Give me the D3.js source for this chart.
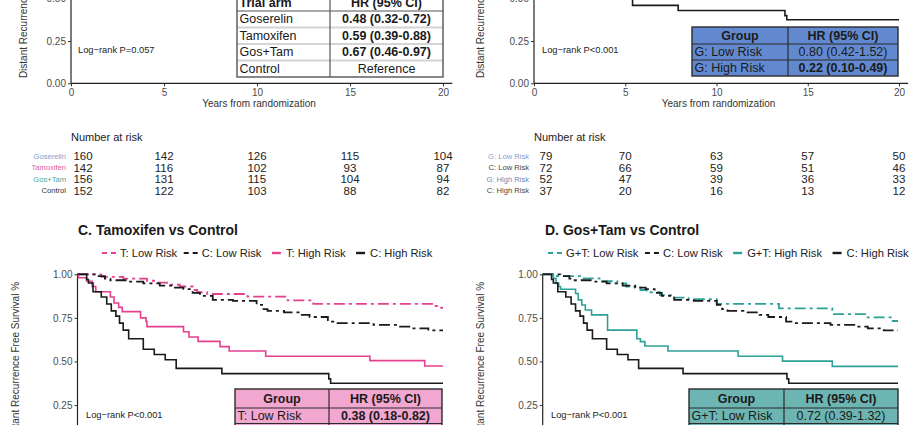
<!DOCTYPE html>
<html>
<head>
<meta charset="utf-8">
<script src="https://cdn.jsdelivr.net/npm/d3@7"></script>
<style>
  body { margin: 0; background: #fff; }
  svg { display: block; font-family: "Liberation Sans", Arial, Helvetica, sans-serif; }
</style>
</head>
<body>
<svg id="chart" width="920" height="425"></svg>
<script>
// ---- data ----
var years = [0, 5, 10, 15, 20];
var yTicks = [0, 0.25, 0.5, 0.75, 1];

var armsA = ["Goserelin", "Tamoxifen", "Gos+Tam", "Control"];
var hrA = ["0.48 (0.32-0.72)", "0.59 (0.39-0.88)", "0.67 (0.46-0.97)", "Reference"];
var hrABold = [true, true, true, false];
var riskA = [
  [160, 142, 126, 115, 104],
  [142, 116, 102, 93, 87],
  [156, 131, 115, 104, 94],
  [152, 122, 103, 88, 82]
];

var groupsB = ["G: Low Risk", "G: High Risk"];
var hrB = ["0.80 (0.42-1.52)", "0.22 (0.10-0.49)"];
var hrBBold = [false, true];
var riskLabelsB = ["G: Low Risk", "C: Low Risk", "G: High Risk", "C: High Risk"];
var riskB = [
  [79, 70, 63, 57, 50],
  [72, 66, 59, 51, 46],
  [52, 47, 39, 36, 33],
  [37, 20, 16, 13, 12]
];

var legendC = ["T: Low Risk", "C: Low Risk", "T: High Risk", "C: High Risk"];
var groupsC = ["T: Low Risk"];
var hrC = ["0.38 (0.18-0.82)"];
var hrCBold = [true];

var legendD = ["G+T: Low Risk", "C: Low Risk", "G+T: High Risk", "C: High Risk"];
var groupsD = ["G+T: Low Risk"];
var hrD = ["0.72 (0.39-1.32)"];
var hrDBold = [false];

// survival steps [years, survival]
var ctrlLow = [[0,1],[1.0,0.99],[1.5,0.975],[1.8,0.966],[2.7,0.958],[3.6,0.948],[4.5,0.935],[5.2,0.923],
  [5.8,0.915],[6.3,0.893],[6.7,0.876],[7.4,0.853],[8.5,0.848],[9.8,0.825],[10.1,0.80],[10.4,0.79],
  [11.3,0.782],[12.2,0.767],[12.7,0.755],[13.7,0.728],[14.0,0.72],[16.2,0.71],[17.6,0.70],[18.3,0.69],[19.2,0.678]];
var ctrlHigh = [[0,1],[0.5,0.97],[0.6,0.95],[0.85,0.90],[1.3,0.87],[1.6,0.83],[1.85,0.79],[2.1,0.76],
  [2.3,0.72],[2.5,0.68],[2.8,0.63],[3.6,0.57],[4.2,0.54],[4.8,0.51],[5.4,0.46],[7.9,0.43],[13.75,0.40],[13.85,0.375]];
var tamLow = [[0,1],[1.3,0.985],[2.5,0.975],[3.8,0.963],[4.35,0.952],[4.9,0.94],[5.6,0.93],[6.3,0.91],
  [6.55,0.897],[7.1,0.887],[9.3,0.872],[11.5,0.85],[12.9,0.83],[19.4,0.818],[19.9,0.808]];
var tamHigh = [[0,1],[0.05,0.98],[0.5,0.96],[0.8,0.93],[1.0,0.90],[1.8,0.87],[2.0,0.835],[2.25,0.81],
  [2.45,0.786],[3.45,0.75],[3.75,0.73],[3.8,0.70],[5.8,0.67],[6.1,0.64],[6.6,0.615],[7.8,0.585],
  [8.3,0.56],[10.3,0.53],[16.0,0.505],[19.0,0.474]];
var gtLow = [[0,1],[0.8,0.99],[2.1,0.977],[3.2,0.96],[4.2,0.948],[4.7,0.93],[5.5,0.91],[5.85,0.897],
  [6.6,0.88],[7.4,0.866],[8.2,0.857],[9.8,0.83],[13.3,0.805],[16.3,0.772],[18.2,0.753],[19.7,0.732]];
var gtHigh = [[0,1],[0.6,0.977],[0.75,0.948],[0.9,0.93],[1.0,0.914],[1.85,0.89],[2.0,0.853],[2.2,0.824],
  [2.4,0.795],[2.75,0.767],[3.65,0.68],[5.3,0.63],[5.5,0.614],[5.75,0.589],[7.05,0.56],[11.0,0.53],
  [13.5,0.502],[16.3,0.472]];

// ---- styles ----
var PINK = "#e5408f", TEAL = "#2ca198", DARK = "#1a1a1a";
var FONT = '"Liberation Sans", Arial, Helvetica, sans-serif';

var svg = d3.select("#chart");

// panel scales
var pA = { x: d3.scaleLinear([0, 20], [71, 443]),    y: d3.scaleLinear([0, 1], [83.3, -86]) };
var pB = { x: d3.scaleLinear([0, 20], [534, 899]),   y: d3.scaleLinear([0, 1], [83.3, -86]) };
var pC = { x: d3.scaleLinear([0, 20], [77.5, 443]),  y: d3.scaleLinear([0, 1], [448.6, 274.3]) };
var pD = { x: d3.scaleLinear([0, 20], [542.7, 898]), y: d3.scaleLinear([0, 1], [448.6, 274.3]) };

function drawAxes(p, labelX) {
  var g = svg.append("g");
  // only the ticks that fall inside the window
  var yt = yTicks.filter(function (d) { return p.y(d) > -8 && p.y(d) < 433; });
  g.append("g").attr("transform", "translate(" + p.x(0) + ",0)")
    .call(d3.axisLeft(p.y).tickValues(yt).tickFormat(d3.format(".2f")).tickSize(3).tickPadding(2));
  if (p.y(0) < 425) {
    g.append("g").attr("transform", "translate(0," + p.y(0) + ")")
      .call(d3.axisBottom(p.x).tickValues(years).tickSize(3).tickPadding(2.5));
    g.append("text").attr("x", (p.x(0) + p.x(20)) / 2 + 2).attr("y", p.y(0) + 24)
      .attr("text-anchor", "middle").attr("font-size", 10).attr("fill", "#333")
      .text("Years from randomization");
  }
  g.selectAll(".domain").remove();
  g.selectAll(".tick line").attr("stroke", "#333");
  g.selectAll(".tick text").attr("fill", "#4d4d4d").attr("font-size", 10).attr("font-family", FONT);
  g.append("line").attr("x1", p.x(0)).attr("x2", p.x(0)).attr("y1", p.y(0)).attr("y2", p.y(1))
    .attr("stroke", "#222").attr("stroke-width", 1.2);
  g.append("line").attr("x1", p.x(0)).attr("x2", p.x(20.5)).attr("y1", p.y(0)).attr("y2", p.y(0))
    .attr("stroke", "#222").attr("stroke-width", 1.2);
  g.append("text").attr("transform", "translate(" + labelX + "," + p.y(0.5) + ") rotate(-90)")
    .attr("text-anchor", "middle").attr("dominant-baseline", "central")
    .attr("font-size", 10).attr("fill", "#333")
    .text("Distant Recurrence Free Survival %");
}

function drawCurve(p, data, color, dashed) {
  var pts = data.concat([[20, data[data.length - 1][1]]]);
  var line = d3.line().x(function (d) { return p.x(d[0]); }).y(function (d) { return p.y(d[1]); })
    .curve(d3.curveStepAfter);
  svg.append("path").datum(pts).attr("d", line)
    .attr("fill", "none").attr("stroke", color)
    .attr("stroke-width", dashed ? 1.8 : 1.6)
    .attr("stroke-dasharray", dashed ? "11,4,3,4" : null);
}

function logRank(x, y, txt) {
  svg.append("text").attr("x", x).attr("y", y).attr("dominant-baseline", "central")
    .attr("font-size", 9.3).attr("fill", "#222").text(txt);
}

function drawTable(t) {
  var g = svg.append("g").attr("font-size", 12.5);
  var top = t.ys[0], bot = t.ys[t.ys.length - 1];
  g.append("rect").attr("x", t.x0).attr("y", top).attr("width", t.x1 - t.x0).attr("height", bot - top)
    .attr("fill", t.fill);
  t.ys.slice(1, -1).forEach(function (y, i) {
    g.append("line").attr("x1", t.x0).attr("x2", t.x1).attr("y1", y).attr("y2", y)
      .attr("stroke", i === 0 ? t.border : t.sep).attr("stroke-width", i === 0 ? 1.2 : t.sepW);
  });
  g.append("line").attr("x1", t.xd).attr("x2", t.xd).attr("y1", top).attr("y2", bot)
    .attr("stroke", t.border).attr("stroke-width", 1.2);
  g.append("rect").attr("x", t.x0).attr("y", top).attr("width", t.x1 - t.x0).attr("height", bot - top)
    .attr("fill", "none").attr("stroke", t.border).attr("stroke-width", 1.4);
  var cy = function (i) { return (t.ys[i] + t.ys[i + 1]) / 2; };
  g.append("text").attr("x", t.headLeft ? t.x0 + 2.5 : (t.x0 + t.xd) / 2).attr("y", cy(0))
    .attr("text-anchor", t.headLeft ? "start" : "middle").attr("dominant-baseline", "central")
    .attr("font-weight", "bold").attr("fill", "#1a1a1a").text(t.head[0]);
  g.append("text").attr("x", (t.xd + t.x1) / 2).attr("y", cy(0))
    .attr("text-anchor", "middle").attr("dominant-baseline", "central")
    .attr("font-weight", "bold").attr("fill", "#1a1a1a").text(t.head[1]);
  t.names.forEach(function (n, i) {
    g.append("text").attr("x", t.x0 + 2.5).attr("y", cy(i + 1)).attr("dominant-baseline", "central")
      .attr("fill", t.textCol).text(n);
    g.append("text").attr("x", (t.xd + t.x1) / 2).attr("y", cy(i + 1))
      .attr("text-anchor", "middle").attr("dominant-baseline", "central")
      .attr("font-weight", t.bold[i] ? "bold" : "normal").attr("fill", t.textCol).text(t.hr[i]);
  });
}

function riskTable(p, labels, colors, rows) {
  var g = svg.append("g");
  g.append("text").attr("x", p.x(0)).attr("y", 137).attr("dominant-baseline", "central")
    .attr("font-size", 11).attr("fill", "#222").text("Number at risk");
  rows.forEach(function (r, i) {
    var y = 156 + i * 11.6;
    g.append("text").attr("x", p.x(0) - 5).attr("y", y).attr("text-anchor", "end")
      .attr("dominant-baseline", "central").attr("font-size", 7.6).attr("fill", colors[i]).text(labels[i]);
    g.selectAll(null).data(r).enter().append("text")
      .attr("x", function (d, j) { return j === 0 ? p.x(0) + 12 : p.x(years[j]); })
      .attr("y", y).attr("text-anchor", "middle").attr("dominant-baseline", "central")
      .attr("font-size", 11.5).attr("fill", "#222").text(function (d) { return d; });
  });
}

function legend(items, colors, dashed, x, y) {
  var cx = x;
  items.forEach(function (name, i) {
    if (dashed[i]) {
      svg.append("line").attr("x1", cx).attr("x2", cx + 14).attr("y1", y).attr("y2", y)
        .attr("stroke", colors[i]).attr("stroke-width", 2).attr("stroke-dasharray", "5,4");
    } else {
      svg.append("line").attr("x1", cx + 4).attr("x2", cx + 13).attr("y1", y).attr("y2", y)
        .attr("stroke", colors[i]).attr("stroke-width", 2.4);
    }
    var t = svg.append("text").attr("x", cx + 18).attr("y", y).attr("dominant-baseline", "central")
      .attr("font-size", 11.2).attr("fill", "#222").text(name);
    cx += 18 + t.node().getComputedTextLength() + 6.5;
  });
}

function title(x, y, txt) {
  svg.append("text").attr("x", x).attr("y", y).attr("dominant-baseline", "central")
    .attr("font-size", 14).attr("font-weight", "bold").attr("fill", "#1a1a1a").text(txt);
}

// ---- panel A ----
drawAxes(pA, 23);
logRank(78, 50, "Log\u2212rank P=0.057");
drawTable({ x0: 237, xd: 330, x1: 443, ys: [-5.5, 11, 27.5, 44, 60.5, 77], fill: "#ffffff",
  border: "#555", sep: "#d4d4d4", sepW: 2, headLeft: true, textCol: "#1a1a1a",
  head: ["Trial arm", "HR (95% CI)"], names: armsA, hr: hrA, bold: hrABold });
riskTable(pA, armsA, ["#7f9fcf", "#e060a0", "#4aa9a2", "#333"], riskA);

// ---- panel B ----
drawAxes(pB, 480);
drawCurve(pB, ctrlHigh, DARK, false);
logRank(542, 50, "Log\u2212rank P<0.001");
drawTable({ x0: 692, xd: 788, x1: 898, ys: [27, 44, 60, 76], fill: "#6289cf",
  border: "#2b2b2b", sep: "#2b2b2b", sepW: 1.2, headLeft: false, textCol: "#1a1a1a",
  head: ["Group", "HR (95% CI)"], names: groupsB, hr: hrB, bold: hrBBold });
riskTable(pB, riskLabelsB, ["#7f9fcf", "#444", "#6a8ab8", "#444"], riskB);

// ---- panel C ----
title(78, 230, "C. Tamoxifen vs Control");
legend(legendC, [PINK, DARK, PINK, DARK], [true, true, false, false], 102, 253);
drawAxes(pC, 15);
drawCurve(pC, tamLow, PINK, true);
drawCurve(pC, ctrlLow, DARK, true);
drawCurve(pC, tamHigh, PINK, false);
drawCurve(pC, ctrlHigh, DARK, false);
logRank(86, 415, "Log\u2212rank P<0.001");
drawTable({ x0: 235, xd: 329, x1: 442, ys: [389, 408, 423.5, 440], fill: "#f2a7d0",
  border: "#2b2b2b", sep: "#2b2b2b", sepW: 1.2, headLeft: false, textCol: "#1a1a1a",
  head: ["Group", "HR (95% CI)"], names: groupsC, hr: hrC, bold: hrCBold });

// ---- panel D ----
title(545, 230, "D. Gos+Tam vs Control");
legend(legendD, [TEAL, DARK, TEAL, DARK], [true, true, false, false], 548, 253);
drawAxes(pD, 480);
drawCurve(pD, gtLow, TEAL, true);
drawCurve(pD, ctrlLow, DARK, true);
drawCurve(pD, gtHigh, TEAL, false);
drawCurve(pD, ctrlHigh, DARK, false);
logRank(551, 415, "Log\u2212rank P<0.001");
drawTable({ x0: 689, xd: 784, x1: 898, ys: [389, 408, 423.5, 440], fill: "#6db5b3",
  border: "#2b2b2b", sep: "#2b2b2b", sepW: 1.2, headLeft: false, textCol: "#1a1a1a",
  head: ["Group", "HR (95% CI)"], names: groupsD, hr: hrD, bold: hrDBold });
</script>
</body>
</html>
